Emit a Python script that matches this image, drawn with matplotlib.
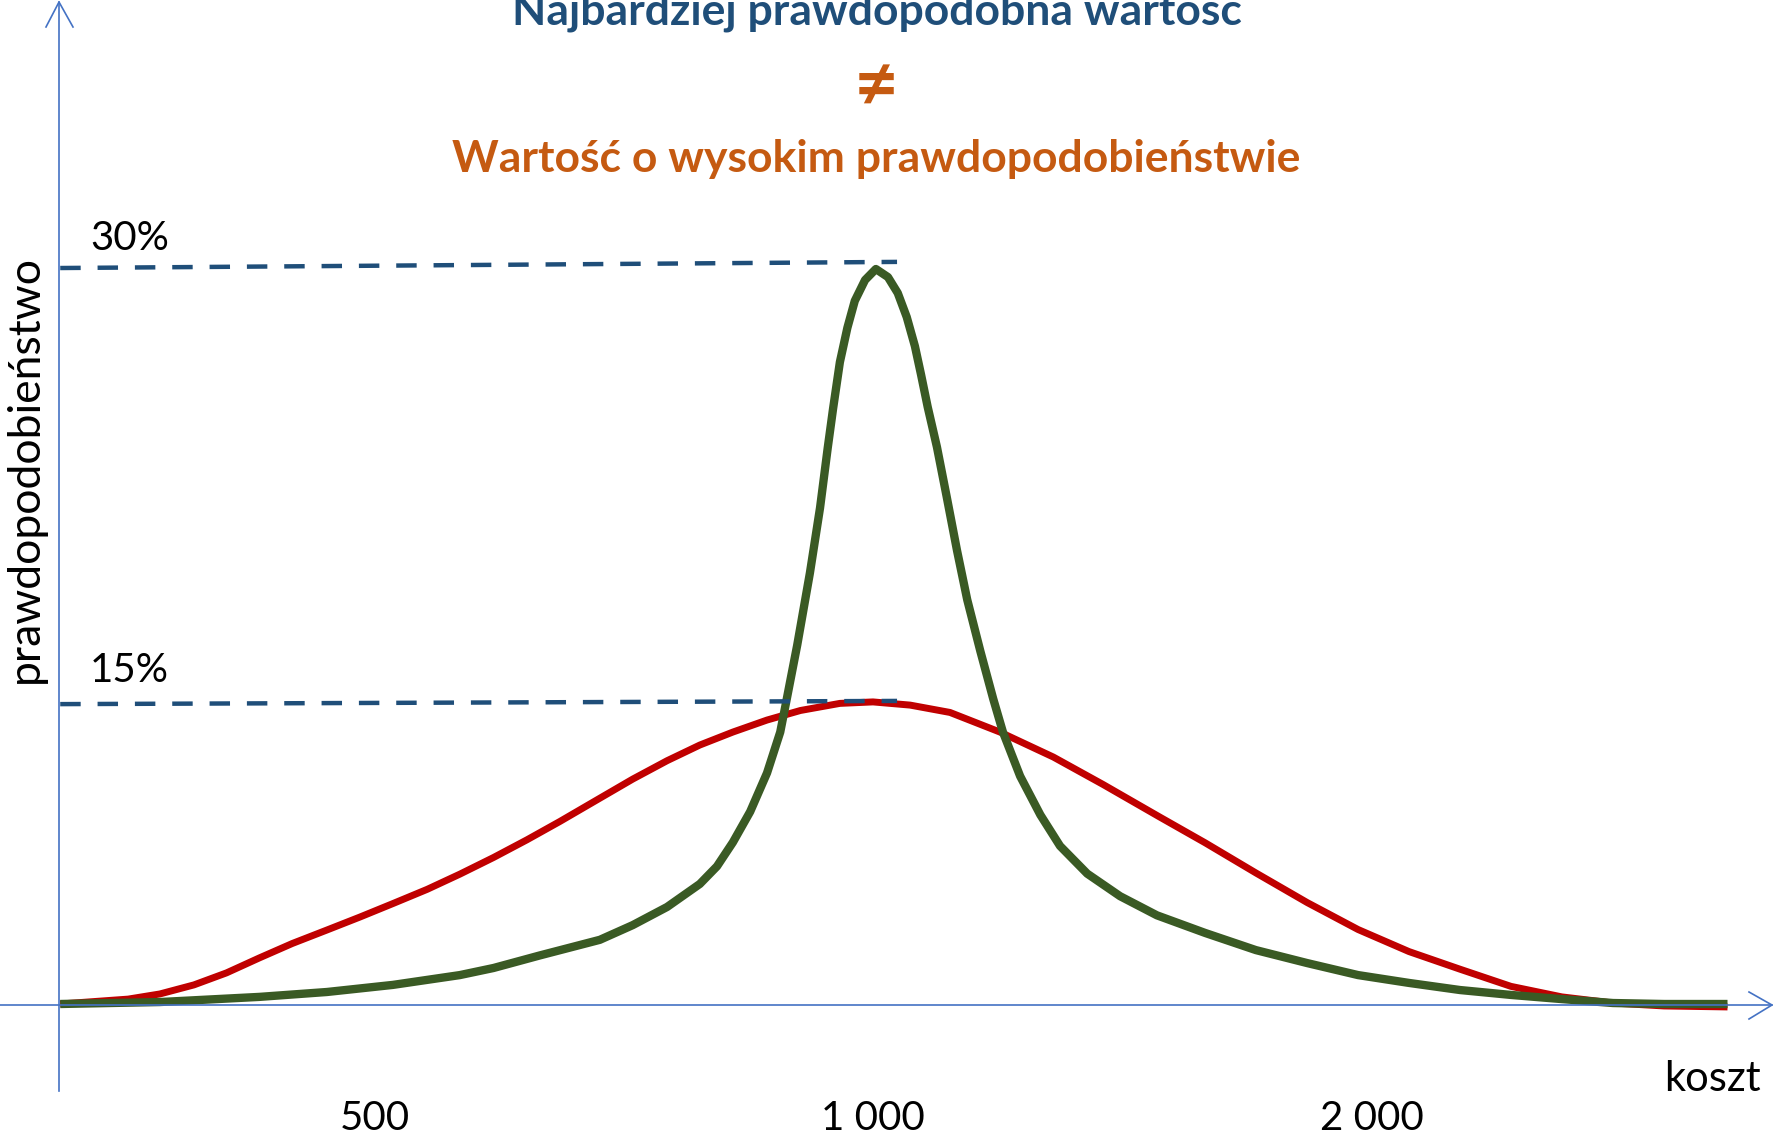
import matplotlib
matplotlib.use("Agg")
import matplotlib.pyplot as plt
from matplotlib.lines import Line2D

# koszt (log scale) vs prawdopodobieństwo [%]
red_cost = [323, 355, 371, 389, 407, 426, 446, 468, 490, 513,
            538, 563, 590, 618, 647, 684, 716, 751, 786, 823,
            863, 904, 955, 1000, 1053, 1113, 1193, 1285, 1377, 1490,
            1587, 1703, 1829, 1963, 2107, 2262, 2428, 2606, 2798, 3004, 3281]
red_prob = [0.0, 0.20, 0.41, 0.78, 1.27, 1.88, 2.47, 3.02, 3.55, 4.10,
            4.68, 5.30, 5.98, 6.70, 7.45, 8.40, 9.18, 9.93, 10.57, 11.10,
            11.59, 11.98, 12.27, 12.33, 12.20, 11.90, 11.10, 10.08, 8.96, 7.63,
            6.58, 5.35, 4.14, 3.04, 2.14, 1.42, 0.72, 0.29, 0.04, -0.08, -0.12]

green_cost = [323, 371, 426, 468, 513, 563, 590, 629, 684, 716,
              751, 786, 805, 823, 843, 863, 879, 887, 900, 916,
              929, 939, 946, 955, 965, 975, 989, 1004, 1021, 1035,
              1048, 1060, 1069, 1079, 1093, 1108, 1124, 1140, 1161, 1182,
              1198, 1227, 1262, 1297, 1347, 1410, 1484, 1587, 1703, 1829,
              1963, 2107, 2262, 2428, 2606, 2798, 3004, 3281]
green_prob = [0.0, 0.08, 0.29, 0.49, 0.78, 1.18, 1.47, 1.98, 2.62, 3.22,
              3.96, 4.90, 5.62, 6.60, 7.85, 9.43, 11.10, 12.45, 14.65, 17.59,
              20.25, 22.70, 24.30, 26.20, 27.60, 28.70, 29.55, 30.0, 29.67, 29.02,
              28.04, 26.85, 25.70, 24.37, 22.73, 20.69, 18.50, 16.50, 14.40, 12.45,
              11.10, 9.30, 7.72, 6.45, 5.32, 4.40, 3.62, 2.90, 2.20, 1.67,
              1.18, 0.86, 0.57, 0.37, 0.20, 0.04, 0.0, 0.0]

# dashed guide lines: from axis to just past the peak (slightly tilted in the original)
guide_cost = [323, 1034]
guide_30 = [30.04, 30.29]
guide_15 = [12.24, 12.37]
level_labels = ["30%", "15%"]

tick_cost = [500, 1000, 2000]
tick_labels = ["500", "1 000", "2 000"]

W, H = 1773, 1136
DARK_BLUE = "#1F4E79"
ORANGE = "#C55A11"
AXIS = "#4472C4"
FONT = ["Lato", "DejaVu Sans"]

plt.rcParams["font.family"] = FONT


def fig_xy(x, y):
    return x / W, 1 - y / H


fig = plt.figure(figsize=(W / 100, H / 100), dpi=100)
ax = fig.add_axes([0, 0, 1, 1])
ax.set_xscale("log")
# 1000 sits at x=873px, 1656px per decade; prob 0 at y=1004px, 30% at 269px
k = 30 / 735
ax.set_xlim(10 ** (3 - 873 / 1656), 10 ** (3 + 900 / 1656))
ax.set_ylim((1004 - H) * k, 1004 * k)
ax.axis("off")

ax.plot(red_cost, red_prob, color="#C00000", lw=5.0, solid_capstyle="butt",
        solid_joinstyle="round", zorder=3)
ax.plot(green_cost, green_prob, color="#3A5A24", lw=6.0, solid_capstyle="butt",
        solid_joinstyle="round", zorder=4)

for lev in (guide_30, guide_15):
    ax.plot(guide_cost, lev, color=DARK_BLUE, lw=3.2, dashes=(4.6, 3.8),
            dash_capstyle="butt", zorder=5)

# axes with open arrow heads
axis_lines = [
    ([59, 59], [1091, 2]), ([46, 59, 73], [27, 2, 27]),
    ([0, 1772], [1005, 1005]), ([1749, 1772, 1749], [992, 1005, 1019]),
]
for xs, ys in axis_lines:
    pts = [fig_xy(a, b) for a, b in zip(xs, ys)]
    fig.add_artist(Line2D([p[0] for p in pts], [p[1] for p in pts],
                          transform=fig.transFigure, color=AXIS, lw=1.2, zorder=6))

fig.text(*fig_xy(877, 25), "Najbardziej prawdopodobna wartosc", color=DARK_BLUE,
         fontsize=32, fontweight="bold", ha="center", va="baseline")
fig.text(*fig_xy(876, 88), "≠", color=ORANGE, fontsize=56, fontweight="bold",
         ha="center", va="center")
fig.text(*fig_xy(876, 172), "Wartość o wysokim prawdopodobieństwie", color=ORANGE,
         fontsize=32, fontweight="bold", ha="center", va="baseline")

fig.text(*fig_xy(90, 238), level_labels[0], fontsize=29, ha="left", va="center")
fig.text(*fig_xy(90, 671), level_labels[1], fontsize=29, ha="left", va="center")

fig.text(*fig_xy(25, 469), "prawdopodobieństwo", fontsize=32, rotation=90,
         ha="center", va="center")
fig.text(*fig_xy(1712, 1079), "koszt", fontsize=30, ha="center", va="center")

for c, lab in zip(tick_cost, tick_labels):
    ax.text(c, (1004 - 1118) * k, lab, fontsize=29, ha="center", va="center")

fig.savefig("out.png", dpi=100)
